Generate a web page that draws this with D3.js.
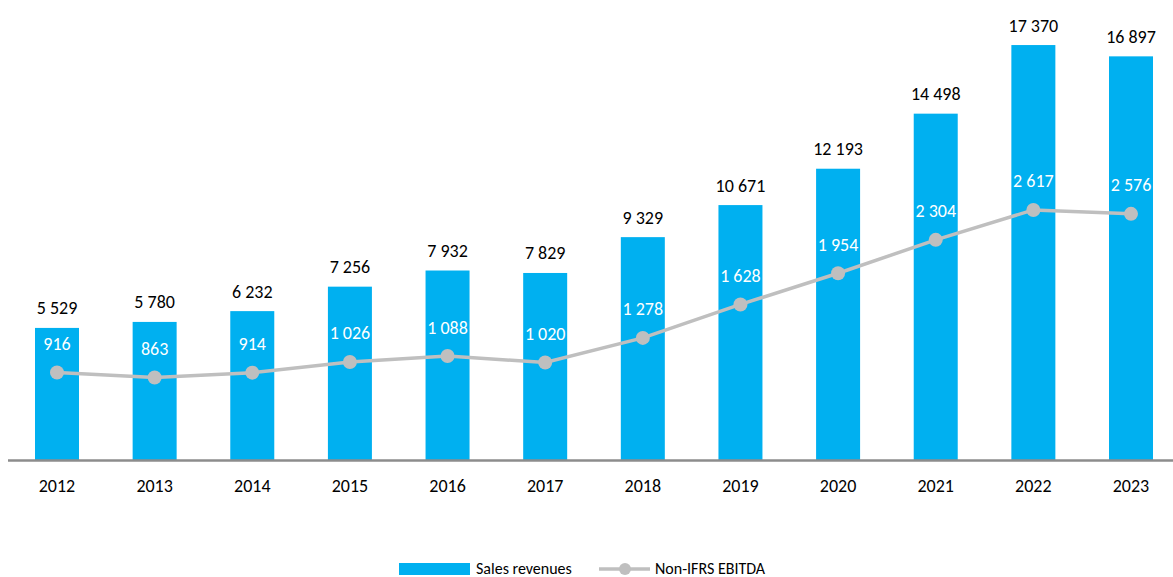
<!DOCTYPE html>
<html>
<head>
<meta charset="utf-8">
<script src="https://cdn.jsdelivr.net/npm/d3@7.9.0/dist/d3.min.js"></script>
<style>
  body { margin: 0; background: #fff; }
  svg { font-family: Carlito, Lato, "Open Sans", sans-serif; }
</style>
</head>
<body>
<svg id="chart" width="1173" height="577"></svg>
<script>
// ─── Data ────────────────────────────────────────────────────────────────────
const years = ['2012', '2013', '2014', '2015', '2016', '2017', '2018', '2019', '2020', '2021', '2022', '2023'];
const salesRevenues = [5529, 5780, 6232, 7256, 7932, 7829, 9329, 10671, 12193, 14498, 17370, 16897];
const ebitda = [916, 863, 914, 1026, 1088, 1020, 1278, 1628, 1954, 2304, 2617, 2576];

const barColor = '#00B0F0';
const lineColor = '#BFBFBF';
const fmt = v => d3.format(',')(v).replace(/,/g, ' ');

const svg = d3.select('#chart');
const baseY = 460;
const barW = 44;

// Scales: bars on primary axis, EBITDA on secondary
const x = d3.scalePoint().domain(years).range([57, 1131]);
const y = d3.scaleLinear().domain([0, 18000]).range([baseY, 30]);
const y2 = d3.scaleLinear().domain([0, 4500]).range([baseY, 30]);

// Bars
svg.selectAll('rect.bar')
  .data(years)
  .join('rect')
  .attr('class', 'bar')
  .attr('x', d => x(d) - barW / 2)
  .attr('width', barW)
  .attr('y', (d, i) => y(salesRevenues[i]))
  .attr('height', (d, i) => baseY - y(salesRevenues[i]))
  .attr('fill', barColor);

// Bar labels
svg.selectAll('text.barlabel')
  .data(years)
  .join('text')
  .attr('class', 'barlabel')
  .attr('x', d => x(d))
  .attr('y', (d, i) => y(salesRevenues[i]) - 13.5)
  .attr('text-anchor', 'middle')
  .attr('font-size', 18)
  .attr('fill', '#000')
  .text((d, i) => fmt(salesRevenues[i]));

// Axis line
svg.append('line')
  .attr('x1', 8).attr('x2', 1173)
  .attr('y1', baseY + 0.5).attr('y2', baseY + 0.5)
  .attr('stroke', '#8c8c8c')
  .attr('stroke-width', 2.5);

// Year labels
svg.selectAll('text.year')
  .data(years)
  .join('text')
  .attr('class', 'year')
  .attr('x', d => x(d))
  .attr('y', 491.5)
  .attr('text-anchor', 'middle')
  .attr('font-size', 18)
  .attr('fill', '#000')
  .text(d => d);

// EBITDA line
const line = d3.line()
  .x((d, i) => x(years[i]))
  .y(d => y2(d));

svg.append('path')
  .datum(ebitda)
  .attr('d', line)
  .attr('fill', 'none')
  .attr('stroke', lineColor)
  .attr('stroke-width', 3.5);

svg.selectAll('circle.dot')
  .data(ebitda)
  .join('circle')
  .attr('class', 'dot')
  .attr('cx', (d, i) => x(years[i]))
  .attr('cy', d => y2(d))
  .attr('r', 7)
  .attr('fill', lineColor);

svg.selectAll('text.linelabel')
  .data(ebitda)
  .join('text')
  .attr('class', 'linelabel')
  .attr('x', (d, i) => x(years[i]))
  .attr('y', d => y2(d) - 22.5)
  .attr('text-anchor', 'middle')
  .attr('font-size', 18)
  .attr('fill', '#fff')
  .text(d => fmt(d));

// Legend
const legend = svg.append('g');
legend.append('rect')
  .attr('x', 399).attr('y', 563).attr('width', 71).attr('height', 12)
  .attr('fill', barColor);
legend.append('text')
  .attr('x', 476).attr('y', 574)
  .attr('font-size', 16)
  .text('Sales revenues');
legend.append('line')
  .attr('x1', 599).attr('x2', 650).attr('y1', 569).attr('y2', 569)
  .attr('stroke', lineColor).attr('stroke-width', 3.5);
legend.append('circle')
  .attr('cx', 625).attr('cy', 569).attr('r', 6)
  .attr('fill', lineColor);
legend.append('text')
  .attr('x', 655).attr('y', 574)
  .attr('font-size', 16)
  .text('Non-IFRS EBITDA');
</script>
</body>
</html>
